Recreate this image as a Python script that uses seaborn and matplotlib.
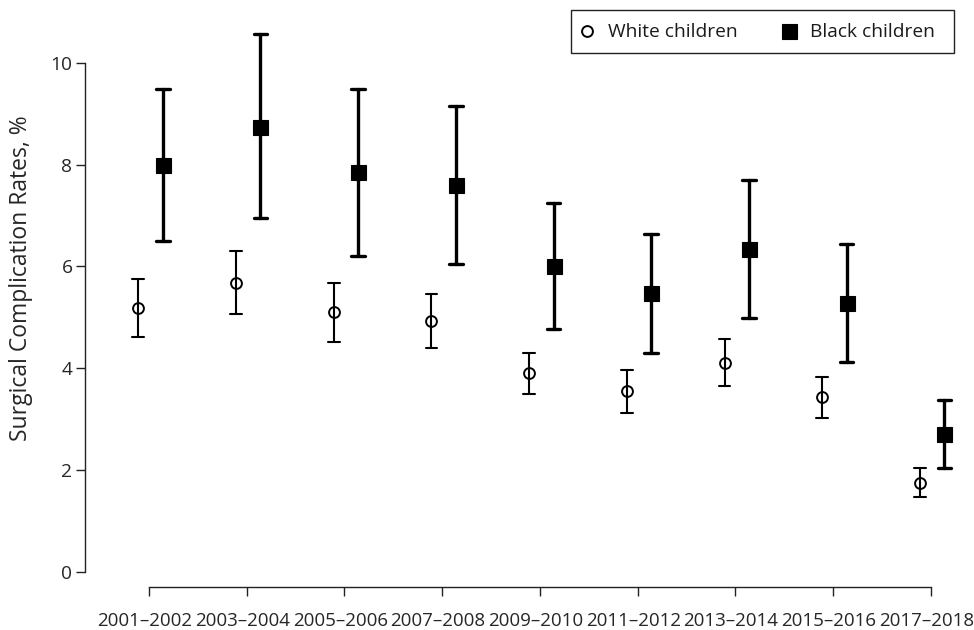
import numpy as np
import pandas as pd
import seaborn as sns
import matplotlib.pyplot as plt
from matplotlib.patches import Rectangle
from matplotlib.transforms import ScaledTranslation

# biennial periods on the x axis
periods = ["2001–2002", "2003–2004", "2005–2006", "2007–2008", "2009–2010",
           "2011–2012", "2013–2014", "2015–2016", "2017–2018"]

# rates (%) with lower / upper interval bounds
white_rate = [5.19, 5.68, 5.10, 4.93, 3.90, 3.55, 4.11, 3.43, 1.75]
white_lo = [4.62, 5.06, 4.51, 4.39, 3.49, 3.12, 3.65, 3.01, 1.47]
white_hi = [5.75, 6.30, 5.68, 5.46, 4.30, 3.96, 4.57, 3.83, 2.03]

black_rate = [7.99, 8.74, 7.85, 7.60, 6.01, 5.47, 6.34, 5.27, 2.70]
black_lo = [6.50, 6.94, 6.21, 6.05, 4.77, 4.30, 4.99, 4.12, 2.04]
black_hi = [9.48, 10.56, 9.49, 9.15, 7.24, 6.63, 7.70, 6.44, 3.37]


def long_frame(rate, lo, hi, shift):
    # three rows per period: median gives the rate, 0-100 pi gives the bounds
    pos = np.arange(len(periods)) + shift
    return pd.DataFrame({"pos": np.tile(pos, 3),
                         "rate": np.concatenate([lo, rate, hi])})


white = long_frame(white_rate, white_lo, white_hi, -0.11)
black = long_frame(black_rate, black_lo, black_hi, 0.14)

sns.set_style("ticks")
plt.rcParams["font.family"] = ["Open Sans", "DejaVu Sans"]
plt.rcParams["text.color"] = "#1a1a1a"

fig = plt.figure(figsize=(9.74, 6.30), dpi=100)
ax = fig.add_axes([85 / 974, (630 - 571.7) / 630, 875 / 974, 549.7 / 630])

sns.pointplot(data=white, x="pos", y="rate", native_scale=True,
              estimator="median", errorbar=("pi", 100), color="black",
              markers="o", linestyles="none", markersize=7.8,
              markeredgewidth=1.4, markerfacecolor="none", capsize=0.12,
              err_kws={"linewidth": 1.5}, label="White children", ax=ax)
sns.pointplot(data=black, x="pos", y="rate", native_scale=True,
              estimator="median", errorbar=("pi", 100), color="black",
              markers="s", linestyles="none", markersize=10.8,
              markeredgewidth=0.8, capsize=0.14,
              err_kws={"linewidth": 2.4}, label="Black children", ax=ax)

ax.set_xlim(-0.655, 8.30)
ax.set_ylim(0, 10.8)
ax.set_xticks(range(len(periods)))
ax.set_xticklabels(periods)
ax.set_yticks([0, 2, 4, 6, 8, 10])
ax.set_xlabel("")
ax.set_ylabel("Surgical Complication Rates, %", fontsize=16.5)
ax.yaxis.set_label_coords(-0.0594, 0.534)

sns.despine(ax=ax, offset={"bottom": 11.2, "left": 0})
ax.spines["left"].set_bounds(0, 10)
ax.spines["bottom"].set_bounds(0, 8)
for side in ["left", "bottom"]:
    ax.spines[side].set_linewidth(1.0)
    ax.spines[side].set_color("#222222")
ax.tick_params(axis="both", length=6.5, width=1.0, color="#222222")
ax.tick_params(axis="x", pad=11.5, labelsize=13.5)
ax.tick_params(axis="y", pad=2.5, labelsize=13.8)

# period labels sit a few pixels left of their ticks in the original
nudge = ScaledTranslation(-3 / 72, 0, fig.dpi_scale_trans)
for lab in ax.get_xticklabels():
    lab.set_transform(lab.get_transform() + nudge)

handles, labels = ax.get_legend_handles_labels()
ax.legend(handles, labels, loc="upper left", ncol=2,
          bbox_to_anchor=(571 / 974, 1 - 15 / 630),
          bbox_transform=fig.transFigure, borderaxespad=0,
          fontsize=13.8, frameon=False,
          handlelength=0.8, handletextpad=0.69, columnspacing=2.31,
          borderpad=0.43)
fig.patches.append(Rectangle((571 / 974, 1 - 52.7 / 630), 383 / 974,
                             42.7 / 630, transform=fig.transFigure,
                             fill=False, edgecolor="#222222", linewidth=1.0))

fig.savefig("out.png", dpi=100)
